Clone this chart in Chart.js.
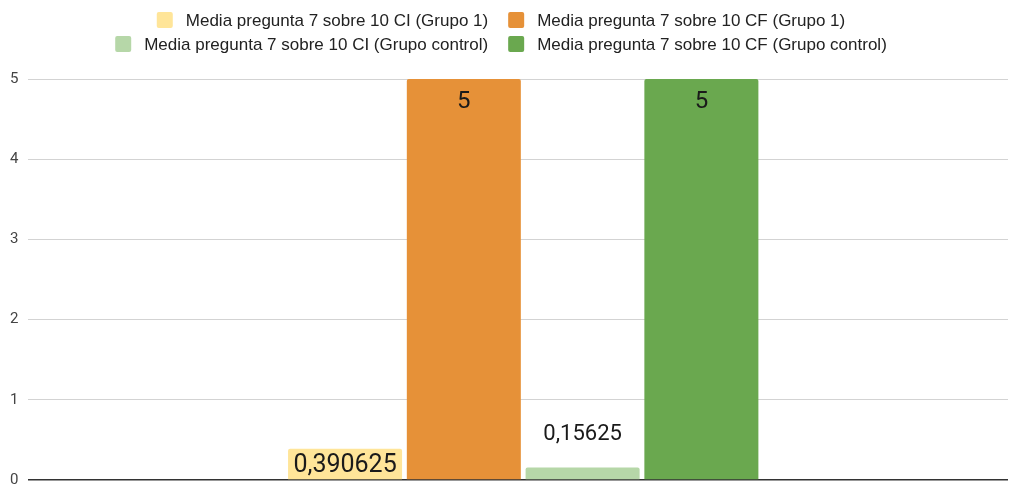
<!DOCTYPE html>
<html><head><meta charset="utf-8">
<script src="https://cdn.jsdelivr.net/npm/chart.js@4/dist/chart.umd.min.js"></script>
<style>html,body{margin:0;padding:0;background:#fff}#wrap{width:1010px;height:486px;position:relative}</style>
</head><body><div id="wrap"><canvas id="c" width="1010" height="486"></canvas></div>
<script>
const categories = [''];
const seriesNames = [
  'Media pregunta 7 sobre 10 CI (Grupo 1)',
  'Media pregunta 7 sobre 10 CF (Grupo 1)',
  'Media pregunta 7 sobre 10 CI (Grupo control)',
  'Media pregunta 7 sobre 10 CF (Grupo control)'
];
const ciGrupo1 = [0.390625];
const cfGrupo1 = [5];
const ciControl = [0.15625];
const cfControl = [5];
const yTicks = [0, 1, 2, 3, 4, 5];
const colors = ['#ffe599', '#e69138', '#b6d7a8', '#6aa84f'];

const seriesValues = [ciGrupo1, cfGrupo1, ciControl, cfControl];

const legendPlugin = {
  id: 'colLegend',
  afterDraw(chart) {
    const ctx = chart.ctx;
    ctx.save();
    ctx.font = '17px "Liberation Sans", Arial, sans-serif';
    ctx.textBaseline = 'middle';
    ctx.textAlign = 'left';
    const box = 16, boxGap = 13, itemGap = 20;
    const rows = [[0, 1], [2, 3]];
    const rowY = [20, 44];
    rows.forEach((row, ri) => {
      const widths = row.map(i => box + boxGap + ctx.measureText(chart.data.datasets[i].label).width);
      const total = widths.reduce((a, b) => a + b, 0) + itemGap * (row.length - 1);
      let x = (chart.width - total) / 2 - 4;
      row.forEach((i, k) => {
        const ds = chart.data.datasets[i];
        ctx.fillStyle = ds.backgroundColor;
        ctx.beginPath();
        ctx.roundRect(x, rowY[ri] - box / 2, box, box, 2);
        ctx.fill();
        ctx.fillStyle = '#222';
        ctx.fillText(ds.label, x + box + boxGap, rowY[ri] + 1);
        x += widths[k] + itemGap;
      });
    });
    ctx.restore();
  }
};

const labelPlugin = {
  id: 'barLabels',
  afterDatasetsDraw(chart) {
    const ctx = chart.ctx;
    ctx.save();
    ctx.textAlign = 'center';
    ctx.textBaseline = 'middle';
    ctx.fillStyle = '#1a1a1a';
    chart.data.datasets.forEach((ds, di) => {
      const meta = chart.getDatasetMeta(di);
      meta.data.forEach((bar, j) => {
        const v = ds.data[j];
        const txt = String(v).replace('.', ',');
        const h = bar.base - bar.y;
        let y;
        if (h > 60) { y = bar.y + 23; ctx.font = '24px Roboto, sans-serif'; }
        else if (h > 25) { y = (bar.y + bar.base) / 2 + 2; ctx.font = '25px Roboto, sans-serif'; }
        else { y = bar.y - 33; ctx.font = '22px Roboto, sans-serif'; }
        ctx.fillText(txt, bar.x, y);
      });
    });
    ctx.restore();
  }
};

// shift the category band slightly to the right, as in the reference
const shiftPlugin = {
  id: 'shiftX',
  afterLayout(chart) {
    const x = chart.scales.x;
    x._startPixel += 5;
    x._endPixel += 5;
  }
};

new Chart(document.getElementById('c'), {
  type: 'bar',
  data: {
    labels: categories,
    datasets: seriesValues.map((vals, i) => ({
      label: seriesNames[i],
      data: vals,
      backgroundColor: colors[i],
      borderRadius: 2,
      categoryPercentage: 0.485,
      barPercentage: 0.96
    }))
  },
  options: {
    responsive: false,
    animation: false,
    devicePixelRatio: 1,
    layout: { autoPadding: false, padding: { top: 79, left: 0, right: 2, bottom: 6 } },
    plugins: { legend: { display: false }, tooltip: { enabled: false } },
    scales: {
      x: { display: false },
      y: {
        min: 0, max: 5,
        afterBuildTicks(axis) { axis.ticks = yTicks.map(v => ({ value: v })); },
        afterFit(axis) { axis.paddingTop = 0; axis.paddingBottom = 0; },
        ticks: { color: '#444', font: { size: 15, family: 'Roboto, sans-serif' }, padding: 10 },
        grid: {
          drawTicks: false,
          color: c => (c.tick && c.tick.value === 0) ? '#333' : '#d3d3d3',
          lineWidth: c => (c.tick && c.tick.value === 0) ? 1.5 : 1
        },
        border: { display: false }
      }
    }
  },
  plugins: [shiftPlugin, legendPlugin, labelPlugin]
});
</script>
</body></html>
